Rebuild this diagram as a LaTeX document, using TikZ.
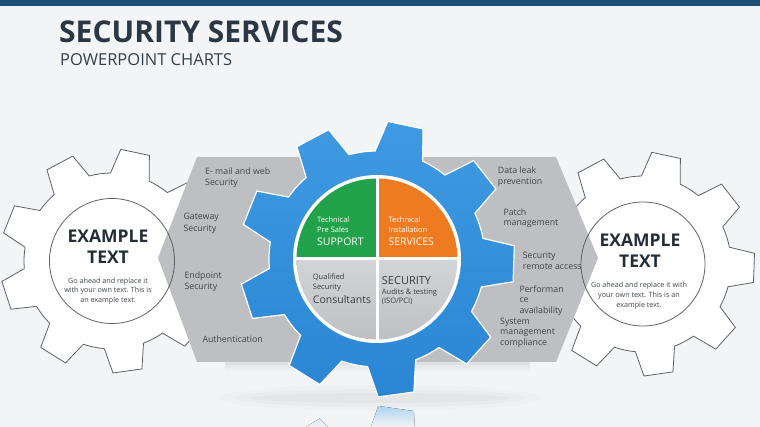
\documentclass[tikz,border=0pt]{standalone}
\usepackage{fontspec}
\setmainfont{Open Sans}
\definecolor{bg}{HTML}{F3F4F6}
\definecolor{bar}{HTML}{1D4E76}
\definecolor{titlec}{HTML}{2B3744}
\definecolor{subc}{HTML}{34404B}
\definecolor{hexc}{HTML}{BDBFC2}
\definecolor{gearT}{HTML}{3F9AE2}
\definecolor{gearB}{HTML}{2A86D4}
\definecolor{grn}{HTML}{22A34B}
\definecolor{org}{HTML}{EF7B21}
\definecolor{pgT}{HTML}{D3D4D6}
\definecolor{pgB}{HTML}{BFC0C3}
\definecolor{labc}{HTML}{3F454B}
\definecolor{pdark}{HTML}{3A3D40}
\definecolor{darkc}{HTML}{232D38}
\definecolor{sgc}{HTML}{5C6168}
\definecolor{refl}{HTML}{A9D0F0}
\newcommand\gearpath[3]{({#1-13}:#3) \foreach \k in {0,...,8}{ -- ({#1+40*\k-7.5}:#2) -- ({#1+40*\k+7.5}:#2) -- ({#1+40*\k+13}:#3) arc[start angle={#1+40*\k+13}, delta angle=14, radius=#3]} -- cycle}
\begin{document}
\begin{tikzpicture}[x=1pt,y=-1pt,
  lab/.style={font=\fontsize{8.8}{11}\selectfont, text=labc, inner sep=0pt, anchor=base west},
  pt/.style={font=\fontsize{7.5}{9}\selectfont, inner sep=0pt, anchor=base west},
  pbig/.style={font=\fontsize{10.5}{12}\selectfont, inner sep=0pt, anchor=base west},
  ex/.style={font=\fontsize{17.5}{18}\selectfont\bfseries, text=darkc, inner sep=0pt, anchor=base},
  exb/.style={font=\fontsize{7.2}{9}\selectfont, text=labc, inner sep=0pt, anchor=base},
  sidegear/.style={fill=white, draw=sgc, line width=0.8pt},
  ring/.style={draw=sgc, line width=0.8pt}]
\useasboundingbox (0,0) rectangle (760,427);
\fill[bg] (0,0) rectangle (760,427);
\fill[bar] (0,0) rectangle (760,6);
\node[font=\fontsize{30}{30}\selectfont\bfseries, text=titlec, inner sep=0pt, anchor=base west] (title) at (59,42.7) {SECURITY SERVICES};
\node[font=\fontsize{16.5}{17}\selectfont, text=subc, inner sep=0pt, anchor=base west] (subtitle) at (60,65.7) {POWERPOINT CHARTS};
% side gear reflections
\begin{scope}
  \clip (0,377) rectangle (760,394);
  \draw[sgc, opacity=0.25, line width=0.8pt, shift={(112,749)}] \gearpath{78}{112}{88};
  \draw[sgc, opacity=0.25, line width=0.8pt, shift={(643,755)}] \gearpath{78}{112}{88};
\end{scope}
% side gears
\path[sidegear, shift={(112,261)}] \gearpath{-78}{112}{88};
\path[sidegear, shift={(643,264)}] \gearpath{-78}{112}{88};
% soft shadows under hexagon and gear
\foreach \d/\o in {3/0.03,6/0.025,9/0.02}{
  \fill[black, opacity=\o, shift={(0,\d)}] (225,330) -- (530,330) -- (530,362) -- (225,362) -- cycle;
}
\foreach \d/\o in {5/0.025,9/0.02,13/0.015}{
  \fill[black, opacity=\o] (380,398) ellipse[x radius={110+\d*4}, y radius=\d];
}
% hexagon band
\fill[hexc] (158,258) -- (197,157) -- (556,157) -- (598,258) -- (556,362) -- (197,362) -- cycle;
% center gear
\path[top color=gearT, bottom color=gearB, draw=white, line width=1.2pt, shift={(377,259)}] \gearpath{-78}{138}{108};
% pie
\begin{scope}[shift={(377,259)}]
  \fill[white] (0,0) circle[radius=84];
  \fill[grn] (0,0) -- (180:80.5) arc[start angle=180, delta angle=90, radius=80.5] -- cycle;
  \fill[org] (0,0) -- (270:80.5) arc[start angle=270, delta angle=90, radius=80.5] -- cycle;
  \path[top color=pgT, bottom color=pgB] (0,0) -- (0:80.5) arc[start angle=0, delta angle=90, radius=80.5] -- cycle;
  \path[top color=pgT, bottom color=pgB] (0,0) -- (90:80.5) arc[start angle=90, delta angle=90, radius=80.5] -- cycle;
  \draw[white, line width=3pt] (-82,0) -- (82,0);
  \draw[white, line width=3pt] (0,-82) -- (0,82);
\end{scope}
% rings of side gears
\draw[ring] (112,261) circle[radius=62.5];
\draw[ring] (643,264) circle[radius=62];
% reflection of the center gear
\begin{scope}
  \clip[shift={(377,544)}] \gearpath{78}{138}{108};
  \fill[top color=refl, bottom color=bg] (230,404) rectangle (530,427);
\end{scope}
% pie texts
\node[pt, text=white] (t1) at (317,222.7) {Technical};
\node[pt, text=white] (t2) at (317,232.7) {Pre Sales};
\node[pbig, text=white] (t3) at (317,246) {SUPPORT};
\node[pt, text=white] (t4) at (388.3,222.7) {Technical};
\node[pt, text=white] (t5) at (388.3,232.7) {Installation};
\node[pbig, text=white] (t6) at (388.3,246) {SERVICES};
\node[pt, text=pdark] (b1) at (312.7,279.3) {Qualified};
\node[pt, text=pdark] (b2) at (312.7,289.3) {Security};
\node[pbig, text=pdark] (b3) at (312.7,303.3) {Consultants};
\node[pbig, text=pdark, font=\fontsize{11}{12}\selectfont] (b4) at (381.7,284.3) {SECURITY};
\node[pt, text=pdark] (b5) at (381.7,295) {Audits \& testing};
\node[pt, text=pdark] (b6) at (381.7,304) {(ISO/PCI)};
% left labels
\node[lab] (l1) at (205,175) {E- mail and web};
\node[lab] (l2) at (205,185.7) {Security};
\node[lab] (l3) at (183.3,220) {Gateway};
\node[lab] (l4) at (183.3,231.7) {Security};
\node[lab] (l5) at (184.3,278.3) {Endpoint};
\node[lab] (l6) at (184.3,290) {Security};
\node[lab] (l7) at (202.3,342.7) {Authentication};
% right labels
\node[lab] (r1) at (497.7,174) {Data leak};
\node[lab] (r2) at (497.7,184.3) {prevention};
\node[lab] (r3) at (503.3,215.7) {Patch};
\node[lab] (r4) at (503.3,226) {management};
\node[lab] (r5) at (522.7,258.7) {Security};
\node[lab] (r6) at (522.7,269.3) {remote access};
\node[lab] (r7) at (519.3,292.7) {Performan};
\node[lab] (r8) at (519.3,302.7) {ce};
\node[lab] (r9) at (519.3,313.3) {availability};
\node[lab] (r10) at (500,325) {System};
\node[lab] (r11) at (500,335) {management};
\node[lab] (r12) at (500,345) {compliance};
% side gear texts
\node[ex] (ex1) at (108,242.7) {EXAMPLE};
\node[ex] (ex2) at (108,263.3) {TEXT};
\node[exb] (g1) at (108,284) {Go ahead and replace it};
\node[exb] (g2) at (108,292.7) {with your own text. This is};
\node[exb] (g3) at (108,302.3) {an example text.};
\node[ex] (ex3) at (640,246.7) {EXAMPLE};
\node[ex] (ex4) at (640,267.3) {TEXT};
\node[exb] (g4) at (639,287.3) {Go ahead and replace it with};
\node[exb] (g5) at (639,297.3) {your own text. This is an};
\node[exb] (g6) at (639,307.3) {example text.};
\end{tikzpicture}
\end{document}
